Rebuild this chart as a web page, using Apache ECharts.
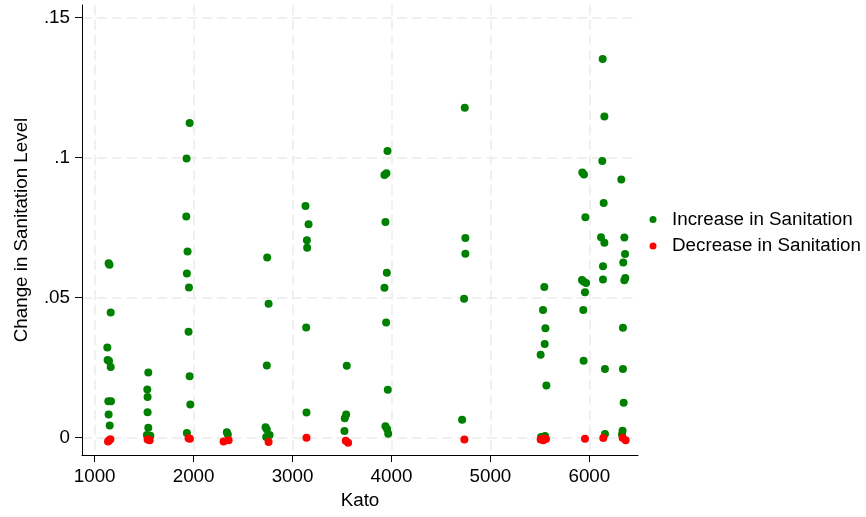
<!DOCTYPE html>
<html>
<head>
<meta charset="utf-8">
<script src="https://cdn.jsdelivr.net/npm/echarts@6/dist/echarts.min.js"></script>
<style>
html,body{margin:0;padding:0;background:#fff;}
#chart{width:866px;height:517px;}
</style>
</head>
<body>
<div id="chart"></div>
<script>
// ---- data ----
var seriesNames = ['Increase in Sanitation', 'Decrease in Sanitation'];
var xTicks = [1000, 2000, 3000, 4000, 5000, 6000];
var yTicks = [0, 0.05, 0.1, 0.15];
var yTickLabels = ['0', '.05', '.1', '.15'];

var increase = [
  [1141,0.0622],[1150,0.0616],[1162,0.0446],[1128,0.0321],[1131,0.0276],[1145,0.0273],[1162,0.0251],
  [1138,0.0129],[1165,0.0129],[1141,0.0082],[1152,0.0042],
  [1542,0.0232],[1532,0.0171],[1535,0.0144],[1535,0.0090],[1542,0.0034],[1528,0.0008],[1563,0.0006],
  [1960,0.1123],[1929,0.0996],[1926,0.0789],[1939,0.0664],[1932,0.0585],[1953,0.0535],[1949,0.0377],
  [1960,0.0218],[1967,0.0117],[1932,0.0016],
  [2336,0.0018],[2346,0.0010],
  [2744,0.0642],[2758,0.0477],[2740,0.0257],[2727,0.0036],[2740,0.0028],[2768,0.0008],[2734,0.0001],
  [3131,0.0826],[3162,0.0761],[3145,0.0704],[3148,0.0677],[3138,0.0392],[3141,0.0089],
  [3548,0.0256],[3542,0.0082],[3528,0.0068],[3525,0.0023],
  [3960,0.1023],[3929,0.0937],[3949,0.0943],[3939,0.0769],[3953,0.0588],[3929,0.0534],[3946,0.0410],
  [3963,0.0170],[3939,0.0040],[3956,0.0030],[3967,0.0013],
  [4741,0.1177],[4747,0.0712],[4747,0.0656],[4734,0.0495],[4714,0.0063],
  [5545,0.0537],[5532,0.0455],[5556,0.0390],[5549,0.0333],[5508,0.0295],[5566,0.0185],[5512,0.0001],[5552,0.0005],
  [5929,0.0946],[5946,0.0939],[5960,0.0786],[5926,0.0562],[5942,0.0557],[5967,0.0551],[5956,0.0518],
  [5939,0.0455],[5942,0.0274],
  [6135,0.1351],[6152,0.1146],[6131,0.0987],[6145,0.0837],[6118,0.0715],[6152,0.0695],[6138,0.0611],
  [6138,0.0564],[6158,0.0244],[6158,0.0012],
  [6323,0.0921],[6354,0.0714],[6361,0.0655],[6343,0.0624],[6364,0.0569],[6354,0.0561],[6340,0.0391],
  [6340,0.0244],[6347,0.0124],[6336,0.0024],[6330,0.0010]
];

var decrease = [
  [1135,-0.0015],[1145,-0.0011],[1159,-0.0007],
  [1535,-0.0008],[1556,-0.0010],
  [1949,-0.0003],[1963,-0.0005],
  [2303,-0.0015],[2354,-0.0010],
  [2758,-0.0017],
  [3141,-0.0001],
  [3538,-0.0012],[3562,-0.0019],
  [4737,-0.0008],
  [5508,-0.0008],[5535,-0.0010],[5545,-0.0004],[5562,-0.0006],
  [5956,-0.0005],
  [6141,-0.0002],
  [6336,-0.0001],[6367,-0.0010]
];

// ---- chart ----
var FONT = 'Liberation Sans, Arial, sans-serif';
var FS = 18.8;
var chart = echarts.init(document.getElementById('chart'), null, {renderer: 'canvas'});
var gridLine = {show: true, lineStyle: {color: '#ebebeb', width: 1.5, type: [10, 5]}};

chart.setOption({
  animation: false,
  backgroundColor: '#ffffff',
  grid: {left: 82, right: 228, top: 5, bottom: 62, outerBoundsMode: 'none'},
  legend: {
    orient: 'vertical',
    left: 644.5,
    top: 204.5,
    icon: 'circle',
    itemWidth: 28,
    itemHeight: 7,
    itemGap: 6.6,
    data: seriesNames,
    textStyle: {fontFamily: FONT, fontSize: FS, color: '#000', lineHeight: 20}
  },
  xAxis: {
    type: 'value',
    min: 872,
    max: 6492,
    name: 'Kato',
    nameLocation: 'middle',
    nameGap: 34,
    nameTextStyle: {fontFamily: FONT, fontSize: FS, color: '#000'},
    axisLine: {show: true, onZero: false, lineStyle: {color: '#000', width: 1}},
    axisTick: {show: true, length: 7, customValues: xTicks, lineStyle: {color: '#000', width: 1}},
    axisLabel: {
      customValues: xTicks, margin: 12, fontFamily: FONT, fontSize: FS, color: '#000',
      formatter: function (v) { return String(Math.round(v)); }
    },
    splitLine: gridLine
  },
  yAxis: {
    type: 'value',
    min: -0.0063,
    max: 0.1544,
    name: 'Change in Sanitation Level',
    nameLocation: 'middle',
    nameGap: 51,
    nameTextStyle: {fontFamily: FONT, fontSize: FS, color: '#000'},
    axisLine: {show: true, onZero: false, lineStyle: {color: '#000', width: 1}},
    axisTick: {show: true, length: 7, customValues: yTicks, lineStyle: {color: '#000', width: 1}},
    axisLabel: {
      customValues: yTicks, margin: 12, fontFamily: FONT, fontSize: FS, color: '#000',
      formatter: function (v) {
        for (var i = 0; i < yTicks.length; i++) { if (Math.abs(yTicks[i] - v) < 1e-9) return yTickLabels[i]; }
        return '';
      }
    },
    splitLine: gridLine
  },
  series: [
    {
      name: seriesNames[0], type: 'scatter', data: increase,
      symbol: 'circle', symbolSize: 8,
      itemStyle: {color: '#008000', opacity: 1}
    },
    {
      name: seriesNames[1], type: 'scatter', data: decrease,
      symbol: 'circle', symbolSize: 8,
      itemStyle: {color: '#ff0000', opacity: 1}
    }
  ]
});
</script>
</body>
</html>
